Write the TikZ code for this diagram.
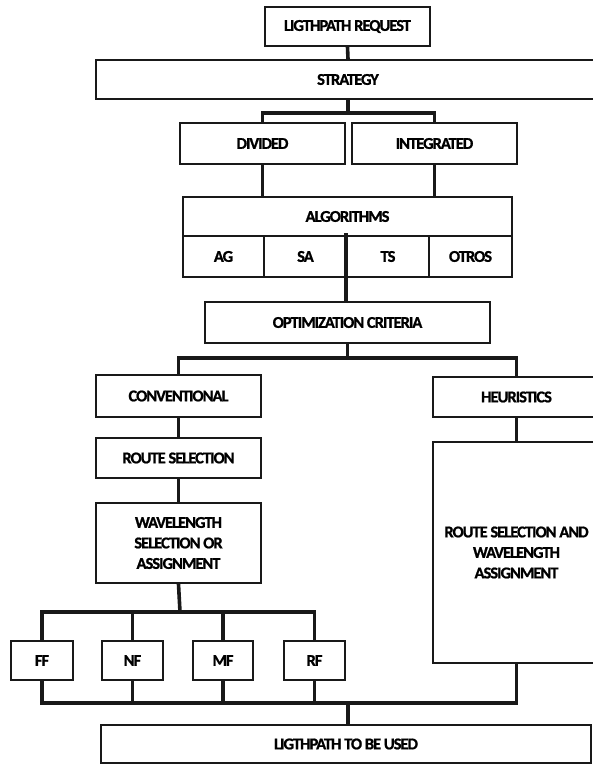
\documentclass[tikz,border=0pt]{standalone}
\usepackage{fontspec}
\setmainfont{Carlito}
\newfontfamily\boxfont{Carlito Bold}[LetterSpace=-6,FakeBold=1]
\begin{document}
\begin{tikzpicture}[x=1pt,y=-1pt,
  box/.style={draw=black!90,line width=2.2pt,fill=white,inner sep=0pt,align=center,
    font=\boxfont\fontsize{16.5}{20.5}\selectfont},
  conn/.style={draw=black!90,line width=3.6pt,line cap=rect}]
\useasboundingbox (0,0) rectangle (593,766);
\clip (0,0) rectangle (593,766);
\node[box,minimum width=165,minimum height=39] (req) at (347.5,26.5) {LIGTHPATH REQUEST};
\node[box,minimum width=504,minimum height=39] (strat) at (348,79.5) {STRATEGY};
\node[box,minimum width=165,minimum height=41] (div) at (262.5,143.5) {DIVIDED};
\node[box,minimum width=165,minimum height=41] (integ) at (434.5,143.5) {INTEGRATED};
\node[box,minimum width=329,minimum height=39] (alg) at (347.5,216.5) {ALGORITHMS};
\node[box,minimum width=81,minimum height=41] (ag) at (223.5,256.5) {AG};
\node[box,minimum width=83,minimum height=41] (sa) at (305.5,256.5) {SA};
\node[box,minimum width=82,minimum height=41] (ts) at (388,256.5) {TS};
\node[box,minimum width=83,minimum height=41] (otros) at (470.5,256.5) {OTROS};
\node[box,minimum width=285,minimum height=41] (opt) at (347.5,322.5) {OPTIMIZATION CRITERIA};
\node[box,minimum width=165,minimum height=42] (conv) at (178.5,396) {CONVENTIONAL};
\node[box,minimum width=167,minimum height=40] (heur) at (516.5,397) {HEURISTICS};
\node[box,minimum width=165,minimum height=40] (rs) at (178.5,458) {ROUTE SELECTION};
\node[box,minimum width=165,minimum height=80] (wl) at (178.5,543) {WAVELENGTH\\SELECTION OR\\ASSIGNMENT};
\node[box,minimum width=167,minimum height=221] (big) at (516.5,552.5) {ROUTE SELECTION AND\\WAVELENGTH\\ASSIGNMENT};
\node[box,minimum width=62,minimum height=39] (ff) at (42,660.5) {FF};
\node[box,minimum width=61,minimum height=39] (nf) at (132.5,660.5) {NF};
\node[box,minimum width=60,minimum height=39] (mf) at (223,660.5) {MF};
\node[box,minimum width=61,minimum height=39] (rf) at (314.5,660.5) {RF};
\node[box,minimum width=490,minimum height=38] (use) at (346,744) {LIGTHPATH TO BE USED};
% junction coordinates
\coordinate (j1) at (348,113);
\coordinate (j2) at (347.5,358);
\coordinate (j3) at (180,612);
\coordinate (j4) at (348,703);
% connectors
\draw[conn] (req.south) -- (strat.north);
\draw[conn] (strat.south) -- (j1);
\draw[conn] (div.north) -- (div.north |- j1) -- (integ.north |- j1) -- (integ.north);
\draw[conn] (div.south) -- (div.south |- alg.north);
\draw[conn] (integ.south) -- (integ.south |- alg.north);
\draw[conn] (ts.north west) -- (ts.south west) -- (ts.south west |- opt.north);
\draw[conn] (opt.south) -- (j2);
\draw[conn] (conv.north) -- (conv.north |- j2) -- (heur.north |- j2) -- (heur.north);
\draw[conn] (conv.south) -- (rs.north);
\draw[conn] (rs.south) -- (wl.north);
\draw[conn] (heur.south) -- (big.north);
\draw[conn] (wl.south) -- (j3);
\draw[conn] (ff.north) -- (ff.north |- j3) -- (rf.north |- j3) -- (rf.north);
\draw[conn] (nf.north) -- (nf.north |- j3);
\draw[conn] (mf.north) -- (mf.north |- j3);
\draw[conn] (ff.south) -- (ff.south |- j4) -- (big.south |- j4) -- (big.south);
\draw[conn] (nf.south) -- (nf.south |- j4);
\draw[conn] (mf.south) -- (mf.south |- j4);
\draw[conn] (rf.south) -- (rf.south |- j4);
\draw[conn] (j4) -- (use.north -| j4);
\end{tikzpicture}
\end{document}
